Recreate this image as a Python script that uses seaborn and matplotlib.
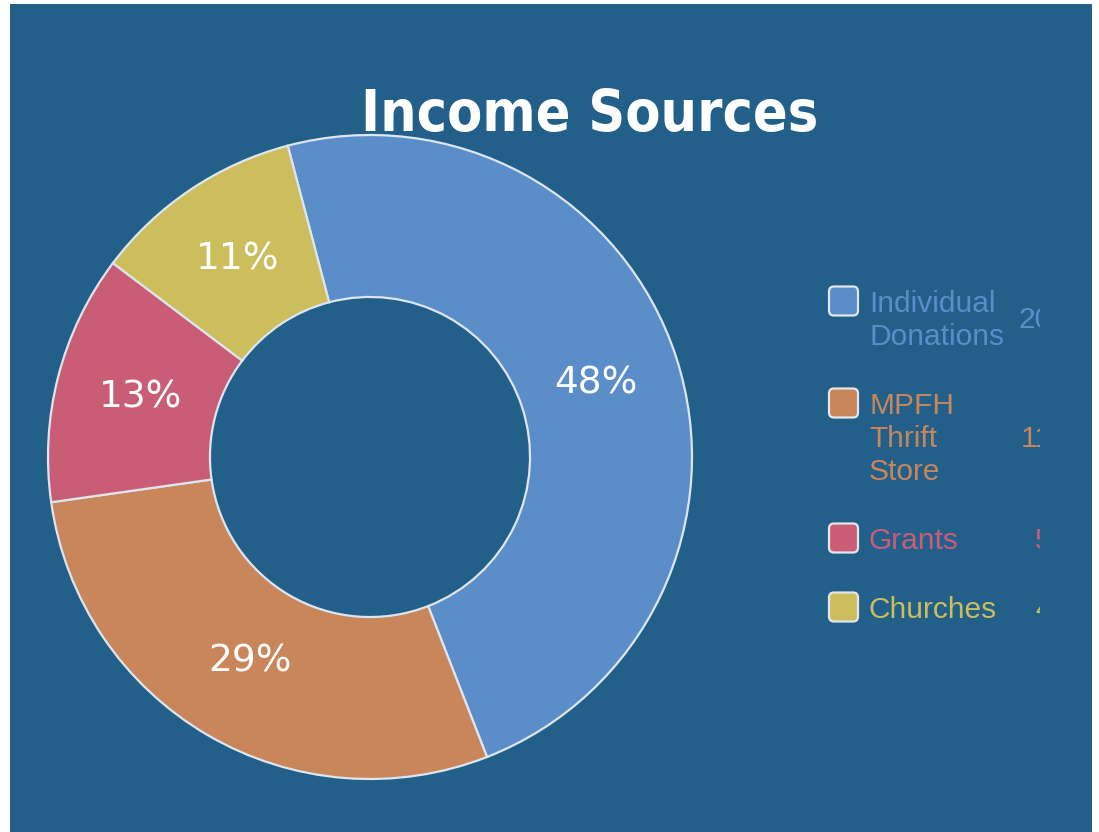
import matplotlib
matplotlib.use("Agg")
import matplotlib.pyplot as plt
from matplotlib import font_manager
from matplotlib.font_manager import FontProperties
from matplotlib.patches import Rectangle, FancyBboxPatch
import seaborn as sns

# ----------------------------------------
# data
# ----------------------------------------
sources = ["Individual\nDonations", "MPFH\nThrift\nStore", "Grants", "Churches"]
amounts = [200000, 119000, 52000, 44000]
slice_colors = ["#5b8ec9", "#c9865b", "#c95d75", "#ccbd5d"]
chart_title = "Income Sources"

bg = "#22608a"

sns.set_theme(style="white")
fonts = font_manager.fontManager.ttflist
available = {f.name for f in fonts}
label_font = "Liberation Sans" if "Liberation Sans" in available else "DejaVu Sans"
plt.rcParams["font.family"] = [label_font, "DejaVu Sans"]

# narrowest bold face we can find for the title
condensed = [f for f in fonts
             if str(f.stretch) in ("condensed", "semi-condensed", "extra-condensed",
                                   "ultra-condensed", "500", "600", "700")
             and str(f.weight) in ("bold", "700", "600", "semibold", "demibold")
             and f.style == "normal"]
if condensed:
    title_prop = FontProperties(fname=condensed[0].fname, size=41)
else:
    title_prop = FontProperties(family="DejaVu Sans", weight="bold", size=36)

W, H = 1099, 832
fig = plt.figure(figsize=(W / 100, H / 100), dpi=100, facecolor="white")

# blue card with white edges
fig.add_artist(Rectangle((10 / W, 0), (1092 - 10) / W, (H - 4) / H,
                         transform=fig.transFigure, facecolor=bg, edgecolor="none", zorder=0))

# ----------------------------------------
# donut
# ----------------------------------------
cx, cy, r = 370, 457, 322
ax = fig.add_axes([(cx - r) / W, (H - cy - r) / H, 2 * r / W, 2 * r / H])
ax.set_facecolor("none")
palette = sns.color_palette(slice_colors)
wedges, texts, autotexts = ax.pie(
    amounts, colors=palette, startangle=104.8, counterclock=False,
    radius=1.0, autopct=lambda p: f"{p:.0f}%", pctdistance=0.737,
    wedgeprops=dict(width=0.503, edgecolor="#dde5ee", linewidth=1.6),
    textprops=dict(color="white", fontsize=27, family="DejaVu Sans"))
ax.set_xlim(-1, 1)
ax.set_ylim(-1, 1)
ax.axis("off")

# ----------------------------------------
# overlay in pixel coordinates (clipped at x=1040 like the original)
# ----------------------------------------
ov = fig.add_axes([0, 0, 1040 / W, 1])
ov.set_xlim(0, 1040)
ov.set_ylim(H, 0)
ov.axis("off")
ov.set_facecolor("none")

fig.text(590 / W, 1 - 131 / H, chart_title, ha="center", va="baseline",
         color="white", fontproperties=title_prop)

y0 = 301
line_gap = 33
for label, amt, col in zip(sources, amounts, slice_colors):
    lines = label.split("\n")
    ov.add_patch(FancyBboxPatch((829 + 3, y0 - 14.5 + 3), 23, 23,
                                boxstyle="round,pad=3,rounding_size=5",
                                facecolor=col, edgecolor="#e3e6ea", linewidth=1.6))
    for j, line in enumerate(lines):
        ov.text(869, y0 + j * line_gap + 11, line, ha="left", va="baseline",
                color=col, fontsize=21.5)
    ov.text(1126, y0 + (len(lines) - 1) * line_gap / 2 + 11, f"{amt:,}", ha="right",
            va="baseline", color=col, fontsize=21.5, clip_on=True)
    y0 += (len(lines) - 1) * line_gap + 69

fig.savefig("out.png", dpi=100, facecolor=fig.get_facecolor())
